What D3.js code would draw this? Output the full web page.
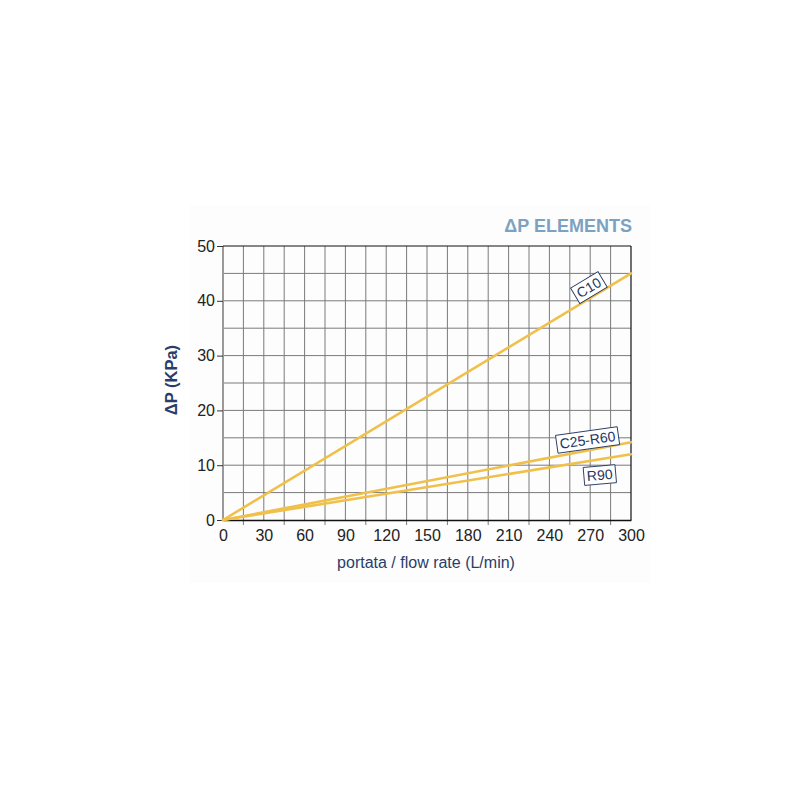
<!DOCTYPE html>
<html>
<head>
<meta charset="utf-8">
<script src="https://cdn.jsdelivr.net/npm/d3@7"></script>
<style>
	body { margin: 0; background: #fff; }
	text { font-family: "Liberation Sans", Arial, sans-serif; }
</style>
</head>
<body>
<svg id="chart"></svg>
<script>
// flow rate ticks (L/min) and pressure ticks (kPa)
var flowTicks = [0, 30, 60, 90, 120, 150, 180, 210, 240, 270, 300]
var dpTicks = [0, 10, 20, 30, 40, 50]

// curves
var seriesNames = ["C10", "C25-R60", "R90"]
var flowPts = [0, 300]
var dpC10 = [0, 45]
var dpC25R60 = [0, 14.2]
var dpR90 = [0, 12]

// label boxes: name, flow, dp, angle
var labelNames = ["C10", "C25-R60", "R90"]
var labelFlow = [269, 268, 277]
var labelDp = [42.4, 14.6, 8.2]
var labelAngle = [-31, -8, -5]

buildChart()

function buildChart() {
	var dim = {
		width: 800,
		height: 800,
		margin: { top: 246, right: 169, bottom: 280, left: 223 }
	}
	var w = dim.width - dim.margin.left - dim.margin.right
	var h = dim.height - dim.margin.top - dim.margin.bottom

	var svg = d3.select('#chart')
		.attr('width', dim.width)
		.attr('height', dim.height)

	// faint panel behind the chart
	svg.append('rect')
		.attr('x', 190).attr('y', 205)
		.attr('width', 460).attr('height', 378)
		.attr('fill', '#fdfdfd')

	var g = svg.append('g')
		.attr('transform', 'translate(' + dim.margin.left + ',' + dim.margin.top + ')')

	var x = d3.scaleLinear().domain([0, 300]).range([0, w])
	var y = d3.scaleLinear().domain([0, 50]).range([h, 0])

	// grid
	g.append('g').selectAll('line')
		.data(d3.range(15, 300, 15))
		.enter().append('line')
			.attr('x1', d => x(d)).attr('x2', d => x(d))
			.attr('y1', 0).attr('y2', d => (d % 30 == 0) ? h : h + 5)
			.attr('stroke', '#7a7a7a').attr('stroke-width', 1)
	g.append('g').selectAll('line')
		.data(d3.range(5, 50, 5))
		.enter().append('line')
			.attr('x1', 0).attr('x2', w)
			.attr('y1', d => y(d)).attr('y2', d => y(d))
			.attr('stroke', '#7a7a7a').attr('stroke-width', 1)

	// frame
	g.append('line').attr('x1', 0).attr('x2', 0).attr('y1', 0).attr('y2', h)
		.attr('stroke', '#9a9a9a').attr('stroke-width', 2)
	g.append('line').attr('x1', 0).attr('x2', w).attr('y1', 0).attr('y2', 0)
		.attr('stroke', '#111').attr('stroke-width', 1.2)
	g.append('line').attr('x1', w).attr('x2', w).attr('y1', 0).attr('y2', h)
		.attr('stroke', '#111').attr('stroke-width', 1.2)

	// axes
	var xAxis = g.append('g')
		.attr('transform', 'translate(0,' + h + ')')
		.call(d3.axisBottom(x).tickValues(flowTicks).tickSize(0).tickPadding(10))
	xAxis.select('.domain').attr('stroke', '#111').attr('stroke-width', 1.5)
	xAxis.selectAll('text').attr('font-size', 16).attr('fill', '#222')
		.style('font-family', '"Liberation Sans", Arial, sans-serif')

	var yAxis = g.append('g')
		.call(d3.axisLeft(y).tickValues(dpTicks).tickSize(6).tickPadding(2))
	yAxis.select('.domain').remove()
	yAxis.selectAll('line').attr('stroke', '#333')
	yAxis.selectAll('text').attr('font-size', 16).attr('fill', '#222')
		.style('font-family', '"Liberation Sans", Arial, sans-serif')

	// curves
	var series = [dpC10, dpC25R60, dpR90]
	var line = d3.line()
		.x((d, i) => x(flowPts[i]))
		.y(d => y(d))
	g.append('g').selectAll('path')
		.data(series)
		.enter().append('path')
			.attr('d', d => line(d))
			.attr('fill', 'none')
			.attr('stroke', '#f0c04a')
			.attr('stroke-width', 2.6)
			.attr('stroke-linecap', 'round')

	// labels
	labelNames.forEach((name, i) => {
		var lg = g.append('g')
			.attr('transform', 'translate(' + x(labelFlow[i]) + ',' + y(labelDp[i]) + ') rotate(' + labelAngle[i] + ')')
		var t = lg.append('text')
			.attr('text-anchor', 'middle')
			.attr('dy', '0.35em')
			.attr('font-size', 14)
			.attr('fill', '#24365f')
			.text(name)
		var bb = t.node().getBBox()
		lg.insert('rect', 'text')
			.attr('x', bb.x - 3).attr('y', -9)
			.attr('width', bb.width + 6).attr('height', 18)
			.attr('fill', '#fff')
			.attr('stroke', '#24365f').attr('stroke-width', 0.9)
	})

	// titles
	svg.append('text')
		.attr('x', 632).attr('y', 232)
		.attr('text-anchor', 'end')
		.attr('font-size', 18).attr('font-weight', 'bold')
		.attr('fill', '#7ba2c2')
		.text('ΔP ELEMENTS')

	svg.append('text')
		.attr('x', 426).attr('y', 568)
		.attr('text-anchor', 'middle')
		.attr('font-size', 16)
		.attr('fill', '#2a3d6a')
		.text('portata / flow rate (L/min)')

	svg.append('text')
		.attr('transform', 'translate(177,380) rotate(-90)')
		.attr('text-anchor', 'middle')
		.attr('font-size', 16.5).attr('font-weight', 'bold')
		.attr('fill', '#2a3d6a')
		.text('ΔP (KPa)')
}
</script>
</body>
</html>
